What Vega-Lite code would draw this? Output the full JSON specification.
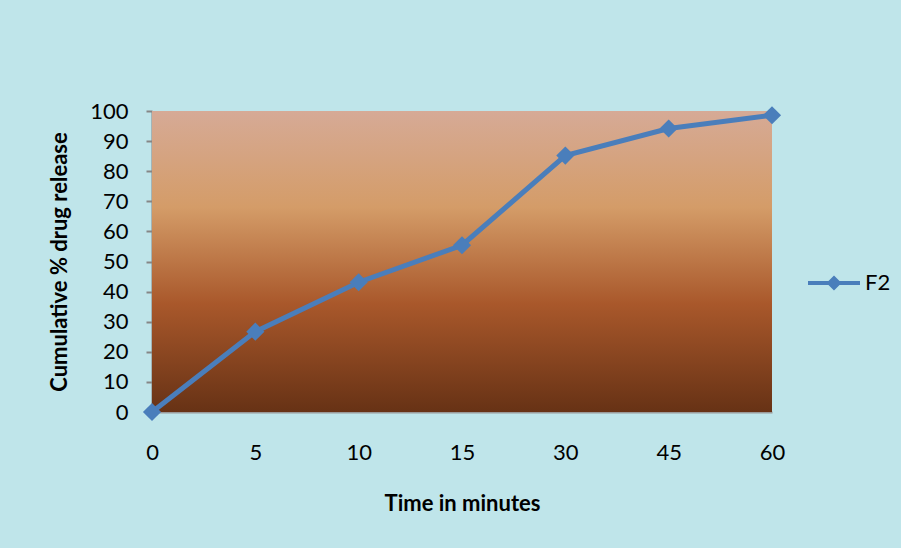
{
  "$schema": "https://vega.github.io/schema/vega-lite/v6.json",
  "width": 620,
  "height": 301,
  "autosize": {"type": "none"},
  "padding": {"left": 152, "top": 111, "right": 129, "bottom": 136},
  "background": "#bfe5ea",
  "config": {
    "view": {"stroke": null},
    "font": "Liberation Sans Narrow, Lato, sans-serif"
  },
  "data": {
    "values": [
      {"minute": 0, "release": 0},
      {"minute": 5, "release": 26.7},
      {"minute": 10, "release": 43.1},
      {"minute": 15, "release": 55.4},
      {"minute": 30, "release": 85.2},
      {"minute": 45, "release": 94.2},
      {"minute": 60, "release": 98.6}
    ]
  },
  "encoding": {
    "x": {
      "field": "minute",
      "type": "ordinal",
      "scale": {"type": "point", "padding": 0},
      "axis": {
        "title": "Time in minutes",
        "labelAngle": 0,
        "ticks": false,
        "grid": false,
        "domainColor": "#9a9a9a",
        "domainWidth": 2,
        "labelFontSize": 22,
        "labelColor": "#000000",
        "labelPadding": 30,
        "titleFontSize": 22,
        "titleFontWeight": "bold",
        "titleColor": "#000000",
        "titlePadding": 30
      }
    },
    "y": {
      "field": "release",
      "type": "quantitative",
      "scale": {"domain": [0, 100], "nice": false},
      "axis": {
        "title": "Cumulative % drug release",
        "values": [0, 10, 20, 30, 40, 50, 60, 70, 80, 90, 100],
        "grid": false,
        "domainColor": "#868686",
        "domainWidth": 2,
        "tickColor": "#868686",
        "tickWidth": 2,
        "tickSize": 6,
        "labelFontSize": 22,
        "labelColor": "#000000",
        "labelPadding": 18,
        "titleFontSize": 22,
        "titleFontWeight": "bold",
        "titleColor": "#000000",
        "titlePadding": 18
      }
    }
  },
  "layer": [
    {
      "data": {"values": [{"panel": "plot area"}]},
      "mark": {
        "type": "rect",
        "color": {
          "gradient": "linear",
          "x1": 0, "y1": 0, "x2": 0, "y2": 1,
          "stops": [
            {"offset": 0, "color": "#d6aa96"},
            {"offset": 0.32, "color": "#d49c68"},
            {"offset": 0.64, "color": "#a9582b"},
            {"offset": 1, "color": "#673215"}
          ]
        }
      },
      "encoding": {"x": null, "y": null}
    },
    {
      "mark": {"type": "line", "color": "#4a7ebb", "strokeWidth": 5}
    },
    {
      "mark": {"type": "point", "shape": "diamond", "filled": true, "size": 330, "opacity": 1},
      "encoding": {
        "color": {
          "datum": "F2",
          "scale": {"range": ["#4a7ebb"]},
          "legend": {
            "title": null,
            "orient": "none",
            "legendX": 656,
            "legendY": 146,
            "padding": 0,
            "symbolType": "M-1,-0.08L1,-0.08L1,0.08L-1,0.08Z M0,-0.29L0.29,0L0,0.29L-0.29,0Z",
            "symbolSize": 2704,
            "symbolStrokeWidth": 0,
            "symbolOpacity": 1,
            "labelFontSize": 22,
            "labelColor": "#000000",
            "labelOffset": 5
          }
        }
      }
    }
  ]
}
